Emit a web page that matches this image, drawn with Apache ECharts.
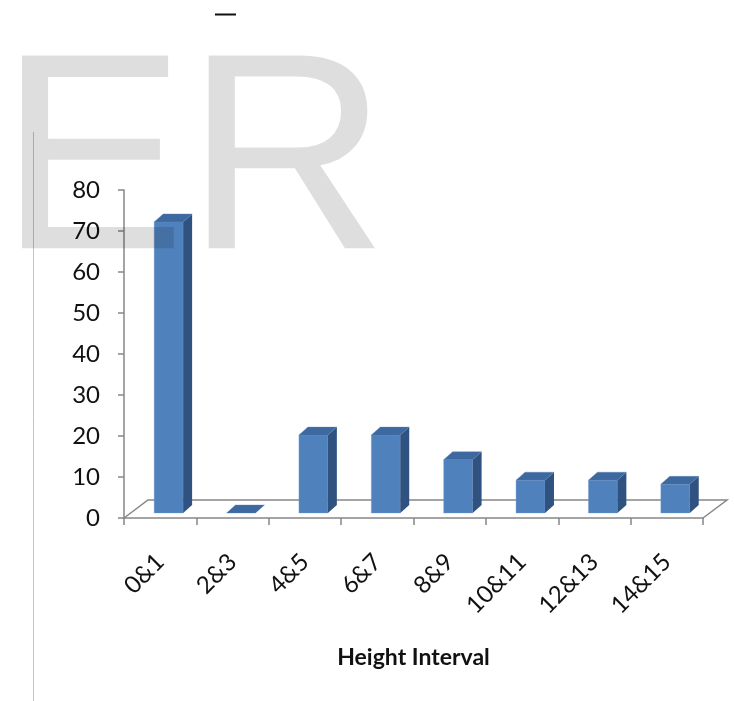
<!DOCTYPE html>
<html>
<head>
<meta charset="utf-8">
<script src="https://cdn.jsdelivr.net/npm/echarts@6/dist/echarts.min.js"></script>
<style>
  html, body { margin: 0; padding: 0; background: #ffffff; }
  #chart { width: 734px; height: 701px; }
</style>
</head>
<body>
<div id="chart"></div>
<script>
// Height interval classes and their counts
const categories = ['0&1', '2&3', '4&5', '6&7', '8&9', '10&11', '12&13', '14&15'];
const counts = [71, 0, 19, 19, 13, 8, 8, 7];
const yTicks = { min: 0, max: 80, interval: 10 };

const FRONT = '#4f81bd';
const TOP = '#3d69a0';
const SIDE = '#2f5280';
const AXIS = '#868686';

const chart = echarts.init(document.getElementById('chart'), null, { renderer: 'canvas' });

// Oblique 3D column: front face, top face and right side face
function renderColumn(params, api) {
  const idx = api.value(0);
  const v = api.value(1);
  const band = api.size([1, 0])[0];
  const base = api.coord([idx, 0]);
  const top = api.coord([idx, v]);
  const lift = 5;
  const dx = band * 0.124, dy = -8;
  const x0 = base[0] - band * 0.083;
  const w = band * 0.40;
  const yb = base[1] - lift;
  const yt = top[1] - lift;
  const children = [];
  if (yb - yt > 0.5) {
    children.push({
      type: 'rect',
      shape: { x: x0, y: yt, width: w, height: yb - yt },
      style: { fill: FRONT, stroke: 'rgba(120,160,210,0.6)', lineWidth: 0.6 }
    });
    children.push({
      type: 'polygon',
      shape: { points: [[x0 + w, yt], [x0 + w + dx, yt + dy], [x0 + w + dx, yb + dy], [x0 + w, yb]] },
      style: { fill: SIDE }
    });
  }
  children.push({
    type: 'polygon',
    shape: { points: [[x0, yt], [x0 + dx, yt + dy], [x0 + w + dx, yt + dy], [x0 + w, yt]] },
    style: { fill: TOP, stroke: 'rgba(90,130,180,0.6)', lineWidth: 0.6 }
  });
  return { type: 'group', children: children };
}

// Floor outline of the plot area (back edge and the two depth edges)
function renderFloor(params, api) {
  const cs = params.coordSys;
  const fx = 24, fy = -18;
  const yb = cs.y + cs.height;
  return {
    type: 'polyline',
    shape: { points: [[cs.x, yb], [cs.x + fx, yb + fy], [cs.x + cs.width + fx, yb + fy], [cs.x + cs.width, yb]] },
    style: { stroke: AXIS, lineWidth: 1.5, fill: null },
    silent: true
  };
}

chart.setOption({
  backgroundColor: '#ffffff',
  animation: false,
  grid: { left: 124, right: 31, top: 190, bottom: 183 },
  xAxis: {
    type: 'category',
    data: categories,
    boundaryGap: true,
    axisLine: { show: true, lineStyle: { color: AXIS, width: 1.5 } },
    axisTick: { show: true, length: 7, alignWithLabel: false, lineStyle: { color: AXIS, width: 1.5 } },
    axisLabel: { rotate: 45, margin: 40, color: '#111', fontFamily: 'Lato', fontSize: 24, interval: 0 },
    name: 'Height Interval',
    nameLocation: 'middle',
    nameGap: 128,
    nameTextStyle: { color: '#111', fontFamily: 'Lato', fontWeight: 'bold', fontSize: 23 },
    splitLine: { show: false }
  },
  yAxis: {
    type: 'value',
    min: yTicks.min,
    max: yTicks.max,
    interval: yTicks.interval,
    axisLine: { show: true, lineStyle: { color: AXIS, width: 1.5 } },
    axisTick: { show: true, length: 6, lineStyle: { color: AXIS, width: 1.5 } },
    axisLabel: { margin: 24, color: '#111', fontFamily: 'Lato', fontSize: 24 },
    splitLine: { show: false }
  },
  series: [
    {
      type: 'custom',
      name: 'floor',
      renderItem: renderFloor,
      data: [[0, 0]],
      z: 1,
      silent: true
    },
    {
      type: 'custom',
      name: 'Count',
      renderItem: renderColumn,
      encode: { x: 0, y: 1 },
      data: counts.map((v, i) => [i, v]),
      z: 2
    }
  ],
  graphic: [
    {
      type: 'line',
      shape: { x1: 33.5, y1: 132, x2: 33.5, y2: 701 },
      style: { stroke: '#c4c4c4', lineWidth: 1 },
      z: 0
    },
    {
      type: 'line',
      shape: { x1: 215, y1: 14.5, x2: 236, y2: 14.5 },
      style: { stroke: '#111', lineWidth: 2 },
      z: 10
    },
    {
      type: 'text',
      x: -1,
      y: 171,
      style: {
        text: 'ER',
        font: '280px "Liberation Sans"',
        fill: 'rgba(0,0,0,0.13)',
        textAlign: 'left',
        textVerticalAlign: 'middle'
      },
      z: 100
    }
  ]
});
</script>
</body>
</html>
